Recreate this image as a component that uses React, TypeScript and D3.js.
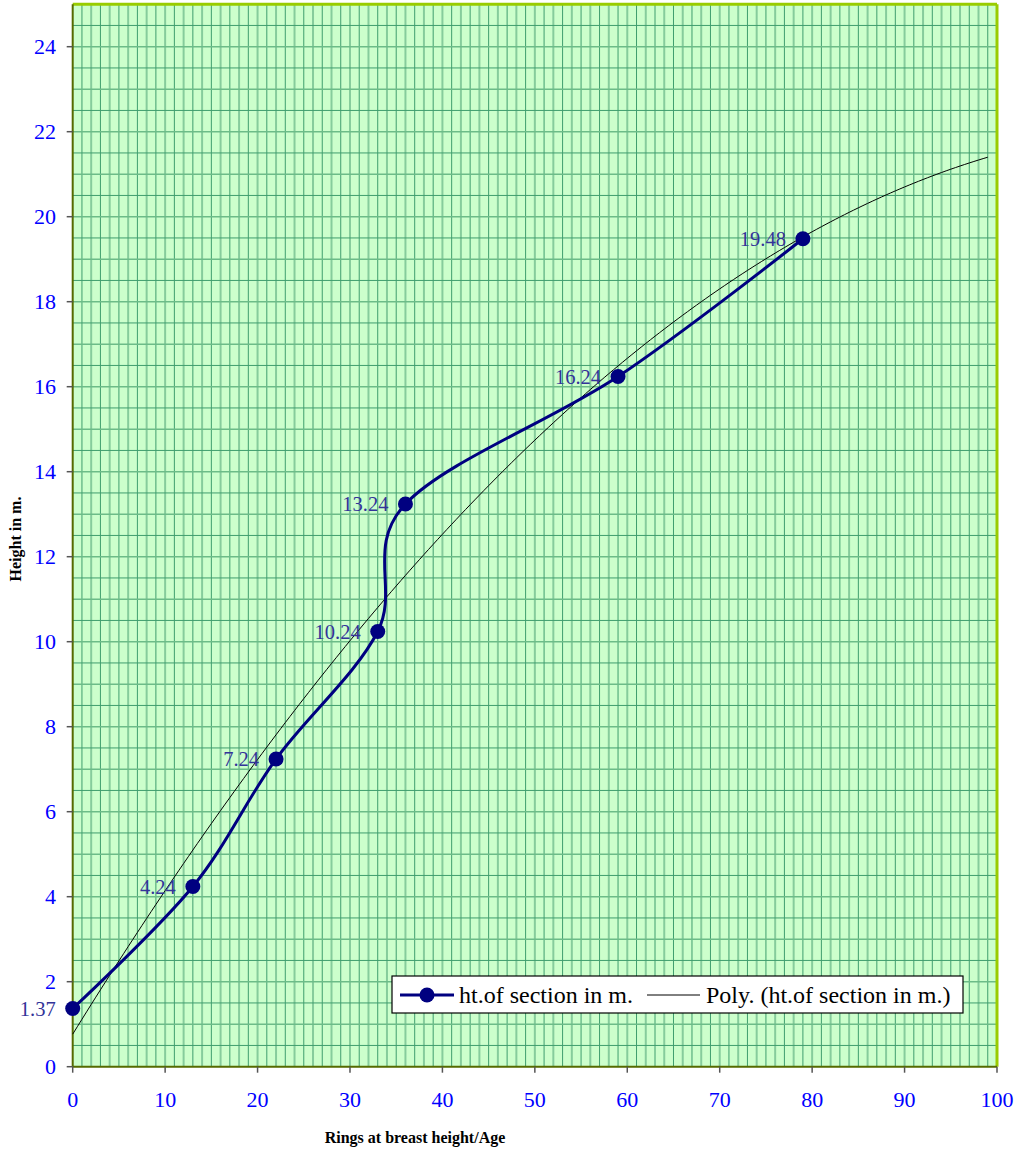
import React from "react";
import * as d3 from "d3";

const rings = [0, 13, 22, 33, 36, 59, 79];
const heights = [1.37, 4.24, 7.24, 10.24, 13.24, 16.24, 19.48];
const pointLabels = ["1.37", "4.24", "7.24", "10.24", "13.24", "16.24", "19.48"];
const xTicks = [0, 10, 20, 30, 40, 50, 60, 70, 80, 90, 100];
const yTicks = [0, 2, 4, 6, 8, 10, 12, 14, 16, 18, 20, 22, 24];
const seriesName = "ht.of section in m.";
const trendName = "Poly. (ht.of section in m.)";
const trendEnd = 99;

function polyFit2(xs: number[], ys: number[]) {
  const n = xs.length;
  const s = [0, 0, 0, 0, 0];
  const t = [0, 0, 0];
  for (let i = 0; i < n; i++) {
    const xv = xs[i], yv = ys[i];
    for (let k = 0; k < 5; k++) s[k] += Math.pow(xv, k);
    for (let k = 0; k < 3; k++) t[k] += Math.pow(xv, k) * yv;
  }
  const A = [
    [s[0], s[1], s[2], t[0]],
    [s[1], s[2], s[3], t[1]],
    [s[2], s[3], s[4], t[2]],
  ];
  for (let i = 0; i < 3; i++) {
    let p = i;
    for (let r = i + 1; r < 3; r++) if (Math.abs(A[r][i]) > Math.abs(A[p][i])) p = r;
    [A[i], A[p]] = [A[p], A[i]];
    for (let r = 0; r < 3; r++) {
      if (r === i) continue;
      const f = A[r][i] / A[i][i];
      for (let c = i; c < 4; c++) A[r][c] -= f * A[i][c];
    }
  }
  return [A[0][3] / A[0][0], A[1][3] / A[1][1], A[2][3] / A[2][2]];
}

const serif = { fontFamily: "'Liberation Serif', 'DejaVu Serif', serif" };

export default function App() {
  const W = 1018, H = 1153;
  const left = 72.7, right = 997, top = 4.2, bottom = 1066.7;
  const x = d3.scaleLinear().domain([0, 100]).range([left, right]);
  const y = d3.scaleLinear().domain([0, 25]).range([bottom, top]);

  const pts = rings.map((r, i) => [r, heights[i]] as [number, number]);
  const line = d3
    .line<[number, number]>()
    .x((d) => x(d[0]))
    .y((d) => y(d[1]))
    .curve(d3.curveCardinal.tension(0));

  const [a, b, c] = polyFit2(rings, heights);
  const trendPts: [number, number][] = d3.range(0, trendEnd + 0.01, 0.5).map((v) => [v, a + b * v + c * v * v]);
  const trendLine = d3
    .line<[number, number]>()
    .x((d) => x(d[0]))
    .y((d) => y(d[1]));

  const vGrid = d3.range(1, 100, 1);
  const hGrid = d3.range(0.5, 25, 0.5);

  return (
    <svg width={W} height={H} style={{ display: "block", position: "absolute", left: 0, top: 0 }}>
      <rect x={left} y={top} width={right - left} height={bottom - top} fill="#ccffcc" />
      {vGrid.map((v) => (
        <line
          key={"v" + v}
          x1={x(v)}
          x2={x(v)}
          y1={top}
          y2={bottom}
          stroke={v % 2 === 0 ? "#86cc9c" : "#3f9e6e"}
          strokeWidth={v % 2 === 0 ? 2 : 1}
        />
      ))}
      {hGrid.map((v) => (
        <line
          key={"h" + v}
          x1={left}
          x2={right}
          y1={y(v)}
          y2={y(v)}
          stroke={Number.isInteger(v) ? "#6cbc88" : "#3f9e6e"}
          strokeWidth={Number.isInteger(v) ? 1.5 : 1}
        />
      ))}
      <line x1={left} x2={right} y1={top} y2={top} stroke="#99cc00" strokeWidth={3} />
      <line x1={right} x2={right} y1={top} y2={bottom} stroke="#99cc00" strokeWidth={3} />
      <line x1={left} x2={left} y1={top} y2={bottom} stroke="#556b00" strokeWidth={2} />
      <line x1={left} x2={right} y1={bottom} y2={bottom} stroke="#556b00" strokeWidth={2} />

      {yTicks.map((t) => (
        <g key={"yt" + t}>
          <line x1={left - 6} x2={left} y1={y(t)} y2={y(t)} stroke="#555" strokeWidth={1.5} />
          <text x={56} y={y(t)} dy="0.35em" textAnchor="end" style={serif} fontSize={22} fill="#0000ff">
            {t}
          </text>
        </g>
      ))}
      {xTicks.map((t) => (
        <g key={"xt" + t}>
          <line x1={x(t)} x2={x(t)} y1={bottom} y2={bottom + 6} stroke="#555" strokeWidth={1.5} />
          <text x={x(t)} y={1099} dy="0.35em" textAnchor="middle" style={serif} fontSize={22} fill="#0000ff">
            {t}
          </text>
        </g>
      ))}

      <text
        transform={`translate(21,539) rotate(-90)`}
        textAnchor="middle"
        style={serif}
        fontSize={16}
        fontWeight="bold"
        fill="#000"
      >
        Height in m.
      </text>
      <text x={415} y={1143} textAnchor="middle" style={serif} fontSize={16} fontWeight="bold" fill="#000">
        Rings at breast height/Age
      </text>

      <path d={trendLine(trendPts) || ""} fill="none" stroke="#000" strokeWidth={1} />

      <path d={line(pts) || ""} fill="none" stroke="#000080" strokeWidth={3} />
      {pts.map((p, i) => (
        <circle key={"c" + i} cx={x(p[0])} cy={y(p[1])} r={7.5} fill="#000080" />
      ))}
      {pts.map((p, i) => (
        <text
          key={"l" + i}
          x={x(p[0]) - 17}
          y={y(p[1])}
          dy="0.35em"
          textAnchor="end"
          style={serif}
          fontSize={20.5}
          fill="#333399"
        >
          {pointLabels[i]}
        </text>
      ))}

      <rect x={392} y={976} width={571} height={37} fill="#fff" stroke="#000" strokeWidth={1.2} />
      <line x1={400} x2={454} y1={995} y2={995} stroke="#000080" strokeWidth={3} />
      <circle cx={427} cy={995} r={7.5} fill="#000080" />
      <text x={459} y={995} dy="0.35em" style={serif} fontSize={24} fill="#000">
        {seriesName}
      </text>
      <line x1={647} x2={700} y1={995} y2={995} stroke="#000" strokeWidth={1} />
      <text x={706} y={995} dy="0.35em" style={serif} fontSize={24} fill="#000">
        {trendName}
      </text>
    </svg>
  );
}
